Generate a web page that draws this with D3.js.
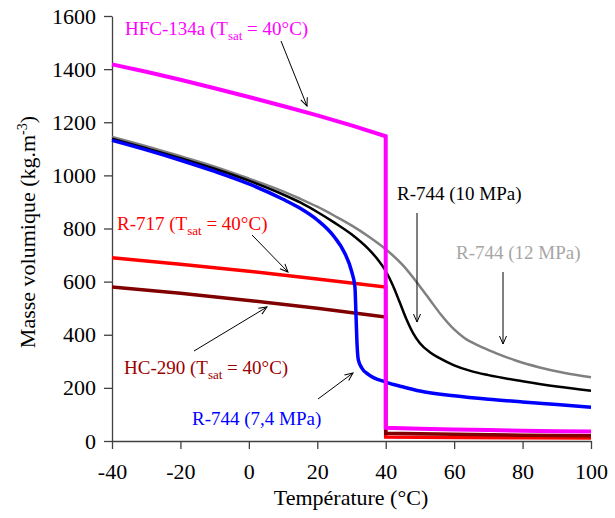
<!DOCTYPE html>
<html><head><meta charset="utf-8">
<script src="https://cdn.jsdelivr.net/npm/d3@7"></script>
<style>
html,body{margin:0;padding:0;background:#fff;}
svg text{font-family:"Liberation Serif","Times New Roman",serif;}
</style></head>
<body><svg id="chart" width="615" height="518"></svg>
<script>
// ---- Data ----
const xTicks = [-40,-20,0,20,40,60,80,100];
const yTicks = [0,200,400,600,800,1000,1200,1400,1600];

// HFC-134a (Tsat = 40°C): liquid then vapour
const tR134a   = [-40,-30,-20,-10,0,10,20,30,40,40,50,60,70,80,90,100];
const rhoR134a = [1418,1390,1360,1328,1295,1261,1226,1188,1147,50,46,43,41,39,37,36];

// R-717 (Tsat = 40°C)
const tR717   = [-40,-20,0,20,40,40,60,80,100];
const rhoR717 = [690,665,639,610,580,15,13,12,11];

// HC-290 (Tsat = 40°C)
const tR290   = [-40,-20,0,20,40,40,60,80,100];
const rhoR290 = [580,556,529,500,467,29,25,22,20];

// R-744 (7,4 MPa)
const tCO2_74   = [-40,-30,-20,-10,0,10,15,20,25,28,30,31,31.3,31.6,32,33,35,40,45,50,60,70,80,90,100];
const rhoCO2_74 = [1132,1096,1057,1015,968,910,876,832,768,708,640,580,480,370,305,275,250,222,204,188,170,157,147,137,127];

// R-744 (10 MPa)
const tCO2_10   = [-40,-30,-20,-10,0,10,15,20,25,30,35,38,40,42,44,46,48,50,53,56,60,65,70,80,90,100];
const rhoCO2_10 = [1138,1102,1065,1025,980,928,898,862,822,778,722,678,640,588,525,460,406,368,333,310,285,263,248,225,205,189];

// R-744 (12 MPa)
const tCO2_12   = [-40,-30,-20,-10,0,10,15,20,25,30,35,40,45,50,53,56,60,63,67,72,78,85,92,100];
const rhoCO2_12 = [1145,1110,1072,1033,988,940,912,882,848,812,770,722,662,582,530,478,420,388,360,332,303,277,257,240];

// ---- Chart ----
const svg = d3.select("#chart");
const x = d3.scaleLinear().domain([-40,100]).range([112,591]);
const y = d3.scaleLinear().domain([0,1600]).range([441,16]);
const axisColor = "#404040";
const fmt = d => (d < 0 ? "-" + Math.abs(d) : String(d));

const gx = svg.append("g").attr("transform","translate(0,441)")
  .call(d3.axisBottom(x).tickValues(xTicks).tickFormat(fmt).tickSize(8).tickPadding(14).tickSizeOuter(0));
const gy = svg.append("g").attr("transform","translate(112,0)")
  .call(d3.axisLeft(y).tickValues(yTicks).tickFormat(fmt).tickSize(8).tickPadding(8).tickSizeOuter(0));
[gx,gy].forEach(g=>{
  g.select(".domain").attr("stroke",axisColor).attr("stroke-width",1.3);
  g.selectAll(".tick line").attr("stroke",axisColor).attr("stroke-width",1.3);
  g.selectAll(".tick text").attr("font-size",22).attr("fill","#000")
    .attr("font-family","Liberation Serif, Times New Roman, serif");
});

function pairs(t,v){return t.map((d,i)=>[d,v[i]]);}
const lineLin = d3.line().x(d=>x(d[0])).y(d=>y(d[1]));
const lineSmooth = d3.line().x(d=>x(d[0])).y(d=>y(d[1])).curve(d3.curveMonotoneX);

const series = [
  {t:tR717, v:rhoR717, color:"#FF0000", w:3.5, gen:lineLin},
  {t:tR290, v:rhoR290, color:"#800000", w:3.5, gen:lineLin},
  {t:tCO2_12, v:rhoCO2_12, color:"#808080", w:2.5, gen:lineSmooth},
  {t:tCO2_10, v:rhoCO2_10, color:"#000000", w:2.5, gen:lineSmooth},
  {t:tCO2_74, v:rhoCO2_74, color:"#0000FF", w:3.5, gen:lineSmooth},
  {t:tR134a, v:rhoR134a, color:"#FF00FF", w:4, gen:lineLin}
];
series.forEach(s=>{
  svg.append("path").attr("d",s.gen(pairs(s.t,s.v)))
    .attr("fill","none").attr("stroke",s.color).attr("stroke-width",s.w)
    .attr("stroke-linejoin","miter");
});

// Axis titles
svg.append("text").attr("x",351).attr("y",505).attr("text-anchor","middle")
  .attr("font-size",22).text("Température (°C)");
const yt = svg.append("text").attr("transform","translate(35,232) rotate(-90)")
  .attr("text-anchor","middle").attr("font-size",22);
yt.append("tspan").text("Masse volumique (kg.m");
yt.append("tspan").attr("dy",-8).attr("font-size",14).text("-3");
yt.append("tspan").attr("dy",8).text(")");

// Arrow marker
svg.append("defs").append("marker").attr("id","arr")
  .attr("viewBox","0 0 10 10").attr("refX",9).attr("refY",5)
  .attr("markerWidth",10).attr("markerHeight",10).attr("markerUnits","userSpaceOnUse")
  .attr("orient","auto")
  .append("path").attr("d","M1,1.5 L9,5 L1,8.5").attr("fill","none").attr("stroke","#000").attr("stroke-width",1);

function arrow(x1,y1,x2,y2){
  svg.append("line").attr("x1",x1).attr("y1",y1).attr("x2",x2).attr("y2",y2)
    .attr("stroke","#000").attr("stroke-width",1).attr("marker-end","url(#arr)");
}
function label(px,py,color,main,sub,rest){
  const t = svg.append("text").attr("x",px).attr("y",py).attr("font-size",19).attr("fill",color);
  t.append("tspan").text(main);
  if(sub){
    t.append("tspan").attr("dy",5).attr("font-size",13).text(sub);
    t.append("tspan").attr("dy",-5).text(rest);
  }
}
label(125,35,"#FF00FF","HFC-134a (T","sat"," = 40°C)");
label(117,230,"#FF0000","R-717 (T","sat"," = 40°C)");
label(124,374,"#990000","HC-290 (T","sat"," = 40°C)");
label(192,425,"#0000FF","R-744 (7,4 MPa)");
label(397,200,"#000000","R-744 (10 MPa)");
label(456,259,"#A6A6A6","R-744 (12 MPa)");

arrow(281,41,307,106);
arrow(417,213,417,322);
arrow(503,272,503,344);
arrow(252,235,288,272);
arrow(194,351,267,307);
arrow(318,399,353,373);
</script></body></html>
